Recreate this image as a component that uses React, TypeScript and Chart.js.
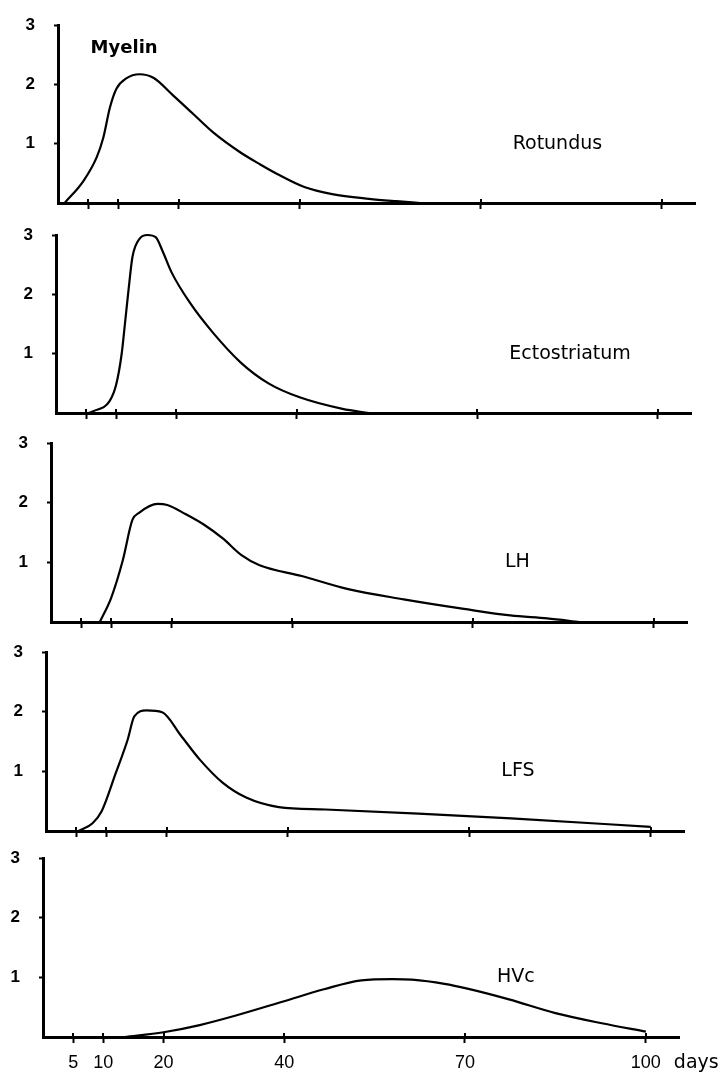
import React, { useEffect, useRef } from "react";
import { Chart, registerables } from "chart.js";

Chart.register(...registerables);

// ---------- data ----------
const dayTicks = [5, 10, 20, 40, 70, 100];
const levelTicks = [1, 2, 3];
const regionNames = ["Rotundus", "Ectostriatum", "LH", "LFS", "HVc"];
const stainLabel = "Myelin";
const unitLabel = "days";

const rotundusDays = [1.1, 4.2, 6.4, 7.5, 8.6, 9.7, 11.3, 13.5, 15.8, 19.1, 22.4, 25.7, 30.1, 33.5, 36.3, 40.8, 45.4, 51.5, 56, 60];
const rotundusValues = [0, 0.37, 0.77, 1.1, 1.61, 1.93, 2.1, 2.17, 2.11, 1.81, 1.5, 1.19, 0.86, 0.65, 0.49, 0.27, 0.15, 0.07, 0.03, 0];

const ectostriatumDays = [5.4, 6.2, 8.9, 10.0, 10.9, 11.5, 12.1, 12.7, 13.9, 15.2, 16.6, 17.7, 19.2, 22.3, 26.1, 30.7, 35.3, 40.6, 47.6, 52];
const ectostriatumValues = [0, 0.03, 0.2, 0.48, 0.99, 1.55, 2.12, 2.63, 2.94, 3.0, 2.96, 2.73, 2.37, 1.85, 1.35, 0.85, 0.5, 0.26, 0.07, 0];

const lhDays = [8.1, 10.0, 11.9, 13.5, 14.6, 17.7, 19.3, 22.3, 25.4, 28.5, 31.6, 34.6, 41.6, 49.3, 58.5, 68.5, 76.2, 82.3, 87.7];
const lhValues = [0, 0.41, 1.03, 1.71, 1.83, 1.98, 1.96, 1.81, 1.63, 1.4, 1.12, 0.95, 0.77, 0.55, 0.38, 0.22, 0.11, 0.06, 0];

const lfsDays = [5.4, 7.7, 9.2, 11.5, 13.5, 14.6, 16.6, 19.2, 22.3, 25.4, 29.2, 33.1, 38.5, 46.2, 61.6, 76.9, 100];
const lfsValues = [0, 0.13, 0.33, 0.96, 1.53, 1.92, 2.02, 1.99, 1.6, 1.2, 0.81, 0.56, 0.4, 0.36, 0.29, 0.21, 0.07];

const hvcDays = [13.5, 20, 26, 32, 40, 46.6, 52.8, 58, 61.2, 66.6, 70.4, 77.3, 85, 92.7, 100];
const hvcValues = [0, 0.08, 0.2, 0.36, 0.6, 0.8, 0.95, 0.97, 0.96, 0.89, 0.81, 0.63, 0.4, 0.23, 0.09];

const seriesDays = [rotundusDays, ectostriatumDays, lhDays, lfsDays, hvcDays];
const seriesValues = [rotundusValues, ectostriatumValues, lhValues, lfsValues, hvcValues];

// ---------- layout ----------
const X_MAX = 105.5;
const Y_MAX = 3;
const PAD_TOP = 14;
const LABEL_DAY = 75.3;
const LABEL_LEVEL = 1.0;
const STAIN_DAY = 5.4;
const STAIN_LEVEL = 2.6;

const panels = [
  { axisX: 58, top: 25, bottom: 203, right: 695 },
  { axisX: 56, top: 235, bottom: 413, right: 691 },
  { axisX: 51, top: 443, bottom: 622, right: 687 },
  { axisX: 46, top: 652, bottom: 831, right: 684 },
  { axisX: 43, top: 858, bottom: 1037, right: 679 },
];

const W = 724;

function Panel({ index }: { index: number }) {
  const ref = useRef<HTMLCanvasElement | null>(null);
  const p = panels[index];
  const isLast = index === panels.length - 1;
  const xAxisH = isLast ? 45 : 12;
  const height = p.bottom - p.top + PAD_TOP + xAxisH;

  useEffect(() => {
    const canvas = ref.current;
    if (!canvas) return;
    const data = seriesDays[index].map((d, k) => ({ x: d, y: seriesValues[index][k] }));

    const annotate = {
      id: "annotate" + index,
      afterDraw(chart: any) {
        const { ctx, chartArea } = chart;
        const xs = chart.scales.x;
        const ys = chart.scales.y;
        ctx.save();
        ctx.strokeStyle = "#000";
        ctx.fillStyle = "#000";
        ctx.lineWidth = 2;
        for (const d of dayTicks) {
          const px = Math.round(xs.getPixelForValue(d));
          ctx.beginPath();
          ctx.moveTo(px, chartArea.bottom - 4);
          ctx.lineTo(px, chartArea.bottom);
          ctx.stroke();
        }
        ctx.textBaseline = "middle";
        ctx.textAlign = "left";
        ctx.font = '19px "DejaVu Sans"';
        ctx.fillText(regionNames[index], xs.getPixelForValue(LABEL_DAY), ys.getPixelForValue(LABEL_LEVEL));
        if (index === 0) {
          ctx.font = 'bold 18px "DejaVu Sans"';
          ctx.fillText(stainLabel, xs.getPixelForValue(STAIN_DAY), ys.getPixelForValue(STAIN_LEVEL));
        }
        if (isLast) {
          ctx.font = '19px "DejaVu Sans"';
          ctx.fillText(unitLabel, xs.getPixelForValue(100) + 28, chartArea.bottom + 26);
        }
        ctx.restore();
      },
    };

    const chart = new Chart(canvas, {
      type: "line",
      data: {
        datasets: [
          {
            data,
            borderColor: "#000",
            borderWidth: 2.2,
            pointRadius: 0,
            fill: false,
            cubicInterpolationMode: "monotone",
            clip: false as any,
          },
        ],
      },
      options: {
        responsive: false,
        maintainAspectRatio: false,
        animation: false,
        devicePixelRatio: 1,
        layout: { padding: { top: PAD_TOP, left: 0, right: W - p.right, bottom: 0 } },
        plugins: { legend: { display: false }, tooltip: { enabled: false }, title: { display: false } },
        scales: {
          x: {
            type: "linear",
            min: 0,
            max: X_MAX,
            afterBuildTicks: (s: any) => {
              s.ticks = dayTicks.map((v) => ({ value: v }));
            },
            afterFit: (s: any) => {
              s.height = xAxisH;
              s.paddingLeft = 0;
              s.paddingRight = 0;
            },
            grid: { display: true, drawOnChartArea: false, drawTicks: true, tickLength: 6, tickWidth: 2, color: "#000" },
            border: { display: true, color: "#000", width: 3 },
            ticks: {
              display: isLast,
              autoSkip: false,
              maxRotation: 0,
              minRotation: 0,
              padding: 9,
              color: "#000",
              font: { family: '"Liberation Sans", Arial, sans-serif', size: 18 },
              callback: (v: any) => String(v),
            },
          },
          y: {
            type: "linear",
            min: 0,
            max: Y_MAX,
            afterBuildTicks: (s: any) => {
              s.ticks = levelTicks.map((v) => ({ value: v }));
            },
            afterFit: (s: any) => {
              s.width = p.axisX;
              s.paddingTop = 0;
              s.paddingBottom = 0;
            },
            grid: { display: true, drawOnChartArea: false, drawTicks: true, tickLength: 4, tickWidth: 2, color: "#000" },
            border: { display: true, color: "#000", width: 3 },
            ticks: {
              padding: 19,
              color: "#000",
              font: { family: '"Liberation Sans", Arial, sans-serif', size: 17, weight: "bold" },
              callback: (v: any) => String(v),
            },
          },
        },
      },
      plugins: [annotate],
    } as any);

    return () => chart.destroy();
  }, [index]);

  return (
    <canvas
      ref={ref}
      width={W}
      height={height}
      style={{ position: "absolute", left: 0, top: p.top - PAD_TOP, width: W, height }}
    />
  );
}

export default function App() {
  return (
    <div style={{ position: "absolute", left: 0, top: 0, width: W, height: 1078, background: "#fff" }}>
      {panels.map((_, i) => (
        <Panel key={i} index={i} />
      ))}
    </div>
  );
}
